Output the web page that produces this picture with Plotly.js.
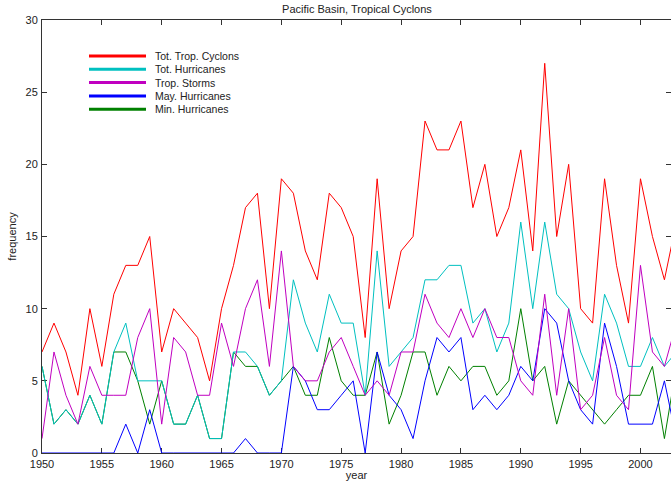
<!DOCTYPE html>
<html>
<head>
<meta charset="utf-8">
<script src="https://cdn.plot.ly/plotly-3.0.1.min.js"></script>
<style>html,body{margin:0;padding:0;overflow:hidden;background:#fff}</style>
</head>
<body>
<div id="chart" style="width:671px;height:481px"></div>
<script>
const years = [1950,1951,1952,1953,1954,1955,1956,1957,1958,1959,
  1960,1961,1962,1963,1964,1965,1966,1967,1968,1969,
  1970,1971,1972,1973,1974,1975,1976,1977,1978,1979,
  1980,1981,1982,1983,1984,1985,1986,1987,1988,1989,
  1990,1991,1992,1993,1994,1995,1996,1997,1998,1999,
  2000,2001,2002,2003];
const totTropCyclones = [7,9,7,4,10,6,11,13,13,15,
  7,10,9,8,5,10,13,17,18,10,
  19,18,14,12,18,17,15,8,19,10,
  14,15,23,21,21,23,17,20,15,17,
  21,14,27,15,20,10,9,19,13,9,
  19,15,12,16];
const totHurricanes = [6,2,3,2,4,2,7,9,5,5,
  5,2,2,4,1,1,7,7,6,4,
  5,12,9,7,11,9,9,4,14,6,
  7,8,12,12,13,13,9,10,7,9,
  16,10,16,11,10,7,5,11,9,6,
  6,8,6,7];
const tropStorms = [1,7,4,2,6,4,4,4,8,10,
  2,8,7,4,4,9,6,10,12,6,
  14,6,5,5,7,8,6,4,5,4,
  7,7,11,9,8,10,8,10,8,8,
  5,4,11,4,10,3,4,8,4,3,
  13,7,6,9];
const majHurricanes = [0,0,0,0,0,0,0,2,0,3,
  0,0,0,0,0,0,0,1,0,0,
  0,6,5,3,3,4,5,0,7,4,
  3,1,5,8,7,8,3,4,3,4,
  6,5,10,9,5,3,2,9,6,2,
  2,2,5,1];
const minHurricanes = [6,2,3,2,4,2,7,7,5,2,
  5,2,2,4,1,1,7,6,6,4,
  5,6,4,4,8,5,4,4,7,2,
  4,7,7,4,6,5,6,6,4,5,
  10,5,6,2,5,4,3,2,3,4,
  4,6,1,6];
const seriesNames = ['Tot. Trop. Cyclons','Tot. Hurricanes','Trop. Storms','May. Hurricanes','Min. Hurricanes'];
const seriesColors = ['#ff0000','#00c0c0','#c000c0','#0000ff','#008000'];
const xTicks = [1950,1955,1960,1965,1970,1975,1980,1985,1990,1995,2000];
const yTicks = [0,5,10,15,20,25,30];

function tr(y, i){
  return {x: years, y: y, name: seriesNames[i], type: 'scatter', mode: 'lines',
    line: {color: seriesColors[i], width: 1}, showlegend: false, hoverinfo: 'skip'};
}
// drawing order: green below cyan, as in the reference
const data = [
  tr(minHurricanes, 4),
  tr(majHurricanes, 3),
  tr(totTropCyclones, 0),
  tr(totHurricanes, 1),
  tr(tropStorms, 2)
];

// custom legend (plot-area fractions)
const plotL = 42, plotT = 20, plotW = 629, plotH = 433;
const px2x = p => (p - plotL) / plotW;
const py2y = p => (plotT + plotH - p) / plotH;
const legRowsY = [56, 69.3, 82.6, 95.9, 109.2];
const shapes = [], annotations = [];
seriesNames.forEach((n, i) => {
  shapes.push({type: 'line', xref: 'paper', yref: 'paper',
    x0: px2x(89), x1: px2x(146), y0: py2y(legRowsY[i]), y1: py2y(legRowsY[i]),
    line: {color: seriesColors[i], width: 3}});
  annotations.push({xref: 'paper', yref: 'paper', x: px2x(153), y: py2y(legRowsY[i]),
    xanchor: 'left', yanchor: 'middle', showarrow: false, text: n,
    font: {family: 'Liberation Sans, Arial, sans-serif', size: 10.5, color: '#222'}});
});

const axFont = {family: 'Liberation Sans, Arial, sans-serif', size: 11, color: '#222'};
const layout = {
  width: 671, height: 481,
  margin: {l: 42, r: 0, t: 20, b: 28, pad: 0},
  paper_bgcolor: '#fff', plot_bgcolor: '#fff',
  font: axFont,
  title: {text: 'Pacific Basin, Tropical Cyclons', font: {family: 'Liberation Sans, Arial, sans-serif', size: 11, color: '#222'},
    x: 0.532, xanchor: 'center', y: 0.99, yanchor: 'top'},
  xaxis: {range: [1950, 2002.55], tickvals: xTicks, ticktext: xTicks.map(String),
    ticks: 'inside', ticklen: 5, tickcolor: '#333', showline: true, linecolor: '#333', linewidth: 1,
    mirror: 'ticks', showgrid: false, zeroline: false, layer: 'below traces',
    ticklabelstandoff: 1,
    tickfont: axFont, title: {text: 'year', font: axFont, standoff: 3}},
  yaxis: {range: [0, 30], tickvals: yTicks, ticktext: yTicks.map(String),
    ticks: 'inside', ticklen: 5, tickcolor: '#333', showline: true, linecolor: '#333', linewidth: 1,
    mirror: 'ticks', showgrid: false, zeroline: false, layer: 'below traces',
    ticklabelstandoff: 1,
    tickfont: axFont, title: {text: 'frequency', font: axFont, standoff: 6}},
  showlegend: false,
  shapes: shapes,
  annotations: annotations
};
Plotly.newPlot('chart', data, layout, {displayModeBar: false, staticPlot: true});
</script>
</body>
</html>
